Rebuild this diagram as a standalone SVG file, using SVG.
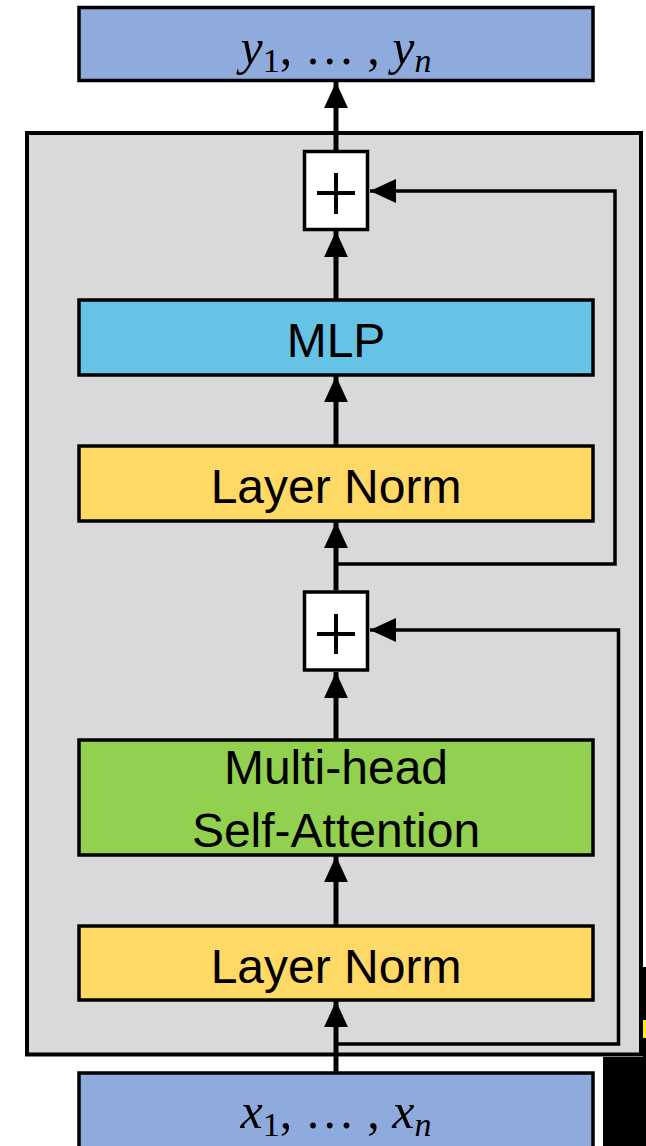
<svg xmlns="http://www.w3.org/2000/svg" width="646" height="1146" viewBox="0 0 646 1146">
<style>
.box{stroke:#000;stroke-width:3.5}
.io{fill:#8faadc}
.ln{fill:#ffd966}
.mlp{fill:#67c3e5}
.att{fill:#92d050}
.plus{fill:#fff;stroke:#000;stroke-width:3.5}
.sign{stroke:#000;stroke-width:4;fill:none}
.lbl{font-family:"Liberation Sans",Arial,sans-serif;font-size:48px;fill:#000;text-anchor:middle}
.math{font-family:"Liberation Serif","DejaVu Serif",serif;font-style:italic;font-size:50px;fill:#000}
.sub{font-size:34px}
.up{font-style:normal}
.main{stroke:#000;stroke-width:5;fill:none}
.res{stroke:#000;stroke-width:3.5;fill:none}
</style>
<defs>
<marker id="ah" markerUnits="userSpaceOnUse" markerWidth="26" markerHeight="26" viewBox="0 0 24 22" refX="24" refY="11" orient="auto">
<path d="M0,0 L24,11 L0,22 Z" fill="#000"/>
</marker>
</defs>
<g id="block">
<rect x="27" y="133" width="614" height="921.5" fill="#d9d9d9" stroke="#000" stroke-width="4"/>
</g>
<rect x="603" y="1057" width="43" height="89" fill="#000"/>
<rect x="643" y="967" width="3" height="90" fill="#000"/>
<rect x="643" y="1020" width="3" height="18" fill="#ffef00"/>
<g id="output">
<rect class="box io" x="79" y="7.5" width="514" height="73"/>
<text class="math" x="336" y="64" text-anchor="middle">y<tspan class="sub up" dy="8">1</tspan><tspan class="up" dy="-8">, … , </tspan>y<tspan class="sub" dy="8">n</tspan></text>
</g>
<g id="add2">
<rect class="plus" x="304.5" y="151.5" width="63" height="78"/>
<path class="sign" d="M317,193 H355 M336,173 V214"/>
</g>
<g id="mlp">
<rect class="box mlp" x="79" y="300" width="514" height="75"/>
<text class="lbl" x="336" y="357">MLP</text>
</g>
<g id="norm2">
<rect class="box ln" x="79" y="446" width="514" height="75"/>
<text class="lbl" x="336" y="503">Layer Norm</text>
</g>
<g id="add1">
<rect class="plus" x="304.5" y="592" width="63" height="78"/>
<path class="sign" d="M317,634 H355 M336,614 V654"/>
</g>
<g id="attention">
<rect class="box att" x="79" y="740" width="514" height="115"/>
<text class="lbl" x="336" y="784">Multi-head</text>
<text class="lbl" x="336" y="847">Self-Attention</text>
</g>
<g id="norm1">
<rect class="box ln" x="79" y="926" width="514" height="74"/>
<text class="lbl" x="336" y="983">Layer Norm</text>
</g>
<g id="input">
<rect class="box io" x="79" y="1073" width="514" height="90"/>
<text class="math" x="336" y="1128" text-anchor="middle">x<tspan class="sub up" dy="8">1</tspan><tspan class="up" dy="-8">, … , </tspan>x<tspan class="sub" dy="8">n</tspan></text>
</g>
<g id="connectors">
<path class="main" d="M336,1072 V1001" marker-end="url(#ah)"/>
<path class="main" d="M336,925 V856" marker-end="url(#ah)"/>
<path class="main" d="M336,739 V672" marker-end="url(#ah)"/>
<path class="main" d="M336,590 V522" marker-end="url(#ah)"/>
<path class="main" d="M336,445 V376" marker-end="url(#ah)"/>
<path class="main" d="M336,299 V231" marker-end="url(#ah)"/>
<path class="main" d="M336,150 V82" marker-end="url(#ah)"/>
<path class="res" d="M336,564 H615 V191 H370" marker-end="url(#ah)"/>
<path class="res" d="M336,1044 H618.5 V630 H370" marker-end="url(#ah)"/>
</g>
</svg>
